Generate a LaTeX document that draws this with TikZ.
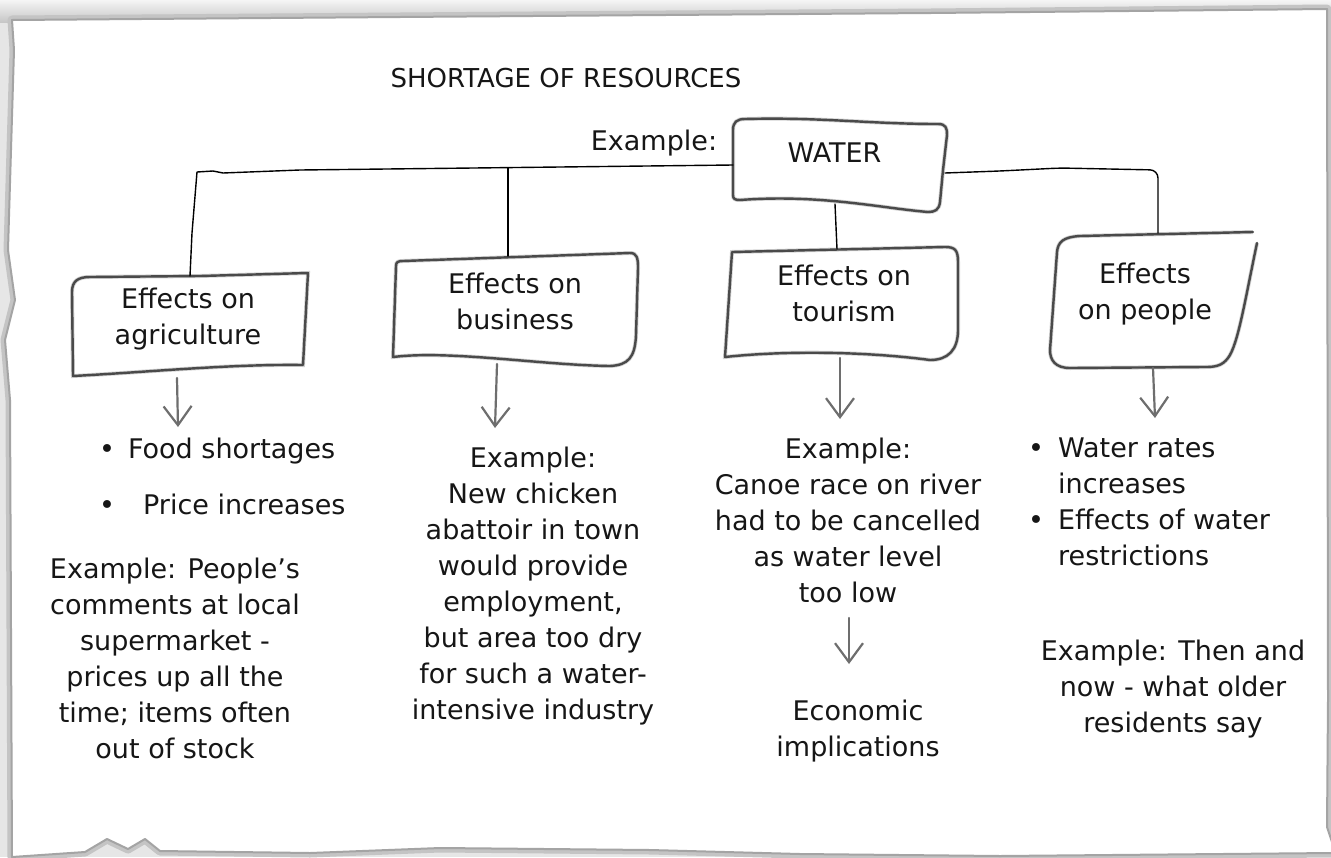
\documentclass[tikz,border=0pt]{standalone}
\usepackage{fontspec}
\setmainfont{DejaVu Sans}
\usetikzlibrary{arrows.meta}
\definecolor{bggray}{HTML}{E6E6E6}
\definecolor{papergray}{HTML}{A4A4A4}
\definecolor{shadowgray}{HTML}{C4C4C4}
\definecolor{boxgray}{HTML}{4A4A4A}
\definecolor{arrgray}{HTML}{6E6E6E}
\definecolor{ink}{HTML}{161616}
\newcommand\paperoutline{(12,20) -- (400,17) -- (931,13) -- (1327,9) -- (1328,700) -- (1327,827) -- (1333,845) -- (1333,853) -- (1000,856) -- (800,854) -- (650,850) -- (440,848) -- (310,853) -- (160,851) -- (145,839) -- (128,849) -- (107,839) -- (85,852) -- (12,857) -- (10,400) -- (5,340) -- (15,300) -- (8,250) -- (14,50) -- cycle}
\begin{document}
\begin{tikzpicture}[x=1pt,y=-1pt,
  sketch/.style={draw=boxgray, line width=2.4pt, line join=round, line cap=round,
    preaction={draw=black!35, line width=4pt, opacity=0.5}},
  conn/.style={draw=black, line width=1.4pt, line join=round, line cap=round},
  garrow/.style={draw=arrgray, line width=2.2pt, line cap=round, -{Straight Barb[length=19pt,width=28pt,line width=2.2pt]}},
  boxtext/.style={font=\fontsize{27}{36}\selectfont, align=center, inner sep=0pt, anchor=north, text=ink},
  body/.style={font=\fontsize{27}{36}\selectfont, align=center, inner sep=0pt, anchor=north, text=ink},
  listtext/.style={font=\fontsize{27}{36}\selectfont, align=left, inner sep=0pt, anchor=north west, text=ink},
]
\useasboundingbox (0,0) rectangle (1331,857);
% background and paper
\fill[bggray] (0,0) rectangle (1331,857);
\shade[top color=white!96!black, bottom color=black!22] (0,0) rectangle (1331,22);
\draw[shadowgray, line width=9pt, line join=round] \paperoutline;
\filldraw[fill=white, draw=papergray, line width=2pt, line join=round] \paperoutline;

% title
\node[font=\fontsize{26}{30}\selectfont, text=ink, inner sep=0pt, anchor=base] (title) at (566,87) {SHORTAGE OF RESOURCES};
\node[font=\fontsize{27}{30}\selectfont, text=ink, inner sep=0pt, anchor=base] (exlabel) at (654,150) {Example:};

% WATER box
\draw[sketch] (733,195) -- (733,130) .. controls (733,122) and (737,119) .. (745,119) .. controls (820,117) and (870,124) .. (938,124) .. controls (946,124) and (947,128) .. (947,135) -- (943,170) -- (940,202) .. controls (939,210) and (935,212) .. (928,212) .. controls (880,208) and (820,194) .. (740,200) .. controls (735,200) and (733,199) .. (733,195) -- cycle;
\node[font=\fontsize{27}{30}\selectfont, text=ink, inner sep=0pt, anchor=base] (water) at (834.5,162) {WATER};

% effect boxes
\draw[sketch] (73,376) -- (72,292) .. controls (72,281) and (78,277) .. (90,277) -- (200,276) -- (308,273) -- (303,365) .. controls (230,364) and (150,372) .. (73,376) -- cycle;
\node[boxtext] (agri) at (188,287.5) {Effects on\\agriculture};

\draw[sketch] (393,357) -- (396,266) .. controls (396,262) and (398,261) .. (403,261) -- (630,253) .. controls (637,253) and (638,258) .. (638,268) -- (636,335) .. controls (635,358) and (628,365) .. (610,366) .. controls (540,365) and (450,350) .. (393,357) -- cycle;
\node[boxtext] (bus) at (515,272.5) {Effects on\\business};

\draw[sketch] (725,357) -- (732,252) -- (945,247) .. controls (955,247) and (958,250) .. (958,262) -- (958,330) .. controls (958,350) and (948,360) .. (930,360) .. controls (870,352) and (790,350) .. (725,357) -- cycle;
\node[boxtext] (tour) at (844,264.5) {Effects on\\tourism};

\draw[sketch] (1257,243) .. controls (1245,300) and (1238,345) .. (1228,358) .. controls (1222,366) and (1215,367) .. (1205,367) -- (1070,368) .. controls (1055,368) and (1050,360) .. (1050,350) -- (1057,252) .. controls (1058,242) and (1063,237) .. (1080,236) -- (1253,232);
\node[boxtext] (people) at (1145,262.5) {Effects\\on people};

% connector end points
\coordinate (waterL) at (733,165);
\coordinate (waterR) at (945,173);
\coordinate (waterB) at (835,204);
\coordinate (agriT) at (190,276);
\coordinate (jB) at (508,168);
\coordinate (busT) at (508,256);
\coordinate (tourT) at (837,249);
\coordinate (peopleT) at (1158,233);

\draw[conn] (waterL) -- (560,167) -- (300,170) -- (223,173) -- (213,171) -- (197,172) -- (192,233) -- (agriT);
\draw[conn] (jB) -- (busT);
\draw[conn] (waterB) -- (tourT);
\draw[conn, rounded corners=8pt] (waterR) -- (1000,171) -- (1060,168) -- (1158,170) -- (1158,200) -- (peopleT);

% arrows
\coordinate (agriB) at (177,378);  \coordinate (agriA) at (178,427);
\coordinate (busB) at (497,364);   \coordinate (busA) at (495,428);
\coordinate (tourB) at (840,358);  \coordinate (tourA) at (840,419);
\coordinate (peopleB) at (1153,368); \coordinate (peopleA) at (1155,418);
\draw[garrow] (agriB) -- (agriA);
\draw[garrow] (busB) -- (busA);
\draw[garrow] (tourB) -- (tourA);
\draw[garrow] (peopleB) -- (peopleA);

% texts
\node[listtext] (agrilist) at (99,437.5) {\textbullet\hspace{13pt}Food shortages\\[20pt]\textbullet\hspace{28pt}Price increases};
\node[body] (agriex) at (175,557.5) {Example: People's\\comments at local\\supermarket -\\prices up all the\\time; items often\\out of stock};
\node[body] (busex) at (533,446.5) {Example:\\New chicken\\abattoir in town\\would provide\\employment,\\but area too dry\\for such a water-\\intensive industry};
\node[body] (tourex) at (848,437.5) {Example:\\Canoe race on river\\had to be cancelled\\as water level\\too low};
\coordinate (tourC) at (849,618);
\coordinate (econA) at (849,664);
\draw[garrow] (tourC) -- (econA);
\node[body] (econ) at (858,700) {Economic\\implications};
\node[listtext] (peoplelist) at (1028,437.5) {\textbullet\hspace{14pt}Water rates\\\hphantom{\textbullet\hspace{14pt}}increases\\\textbullet\hspace{14pt}Effects of water\\\hphantom{\textbullet\hspace{14pt}}restrictions};
\node[body] (peopleex) at (1173,640) {Example: Then and\\now - what older\\residents say};
\end{tikzpicture}
\end{document}
